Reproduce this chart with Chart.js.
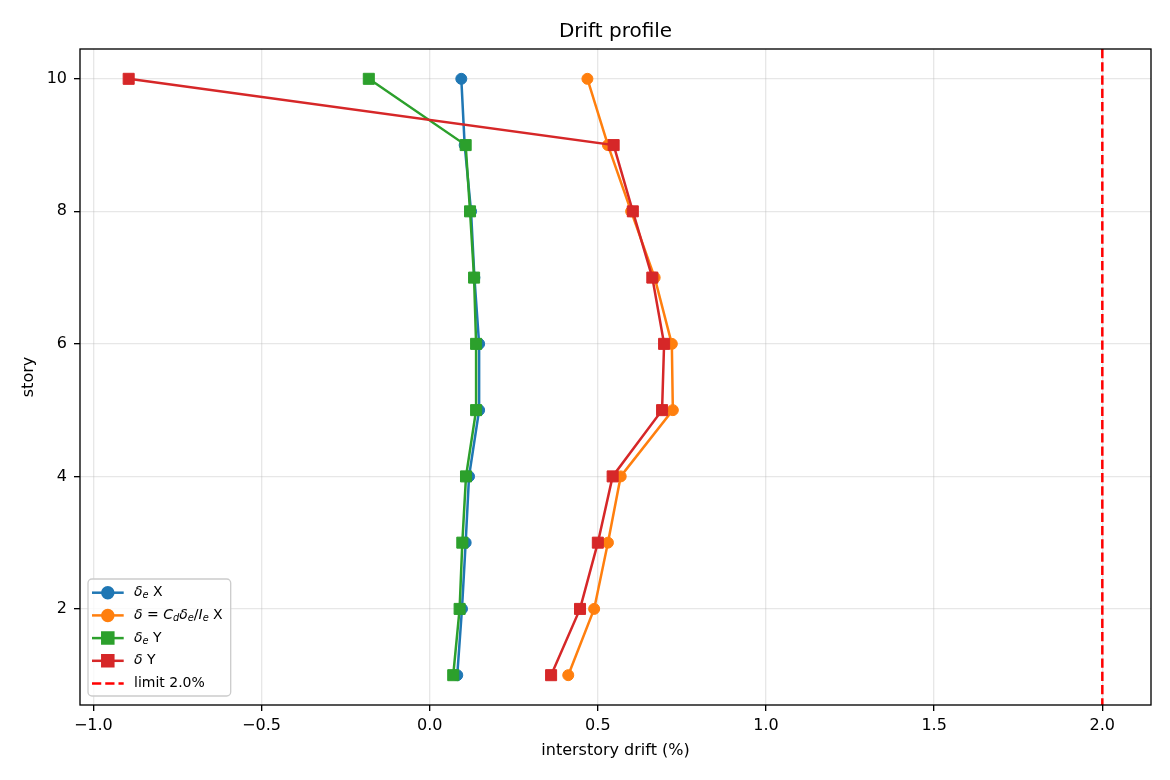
<!DOCTYPE html>
<html>
<head>
<meta charset="utf-8">
<title>Drift profile</title>
<script src="https://cdn.jsdelivr.net/npm/chart.js@4.4.1/dist/chart.umd.min.js"></script>
<style>
  html, body { margin: 0; padding: 0; background: #fff; }
  #wrap { width: 1170px; height: 780px; }
</style>
</head>
<body>
<div id="wrap"><canvas id="drift" width="1170" height="780"></canvas></div>
<script>
// story levels and drift values (%)
const stories = [1, 2, 3, 4, 5, 6, 7, 8, 9, 10];
const deltaEX = [0.082, 0.096, 0.107, 0.117, 0.147, 0.147, 0.133, 0.123, 0.104, 0.094];
const deltaX  = [0.412, 0.489, 0.530, 0.568, 0.723, 0.720, 0.669, 0.599, 0.530, 0.469];
const deltaEY = [0.070, 0.089, 0.097, 0.108, 0.138, 0.138, 0.132, 0.120, 0.107, -0.181];
const deltaY  = [0.361, 0.447, 0.500, 0.544, 0.691, 0.697, 0.662, 0.604, 0.547, -0.895];
const driftLimit = 2.0;

const seriesLabels = ['$δ_e$ X', '$δ=C_dδ_e/I_e$ X', '$δ_e$ Y', '$δ$ Y'];
const limitLabel = 'limit 2.0%';
const xTicks = [-1.0, -0.5, 0.0, 0.5, 1.0, 1.5, 2.0];
const yTicks = [2, 4, 6, 8, 10];

const FONT = "'DejaVu Sans', sans-serif";
Chart.defaults.font.family = FONT;
Chart.defaults.color = '#000';

// matplotlib style autoscale (5% margins)
const allX = deltaEX.concat(deltaX, deltaEY, deltaY, [driftLimit]);
const xLo = Math.min(...allX), xHi = Math.max(...allX);
const xPad = (xHi - xLo) * 0.05;
const yPad = (stories[stories.length - 1] - stories[0]) * 0.05;

const pts = vals => vals.map((v, i) => ({x: v, y: stories[i]}));

function series(label, vals, color, style, order) {
  return {
    label: label,
    data: pts(vals),
    showLine: true,
    borderColor: color,
    backgroundColor: color,
    borderWidth: 2.5,
    pointStyle: style,
    pointRadius: style === 'rect' ? 7.8 : 5.5,
    pointBorderWidth: 1,
    pointBorderColor: color,
    pointBackgroundColor: color,
    order: order
  };
}

// tiny mathtext: $...$ is italic, _x makes a subscript
function mathRuns(label) {
  const runs = [];
  label.split('$').forEach((part, i) => {
    if (i % 2 === 0) { if (part) runs.push({t: part}); return; }
    for (let k = 0; k < part.length; k++) {
      const c = part[k];
      if (c === '_') runs.push({t: part[++k], it: true, sub: true});
      else if (c === '=') runs.push({t: ' = '});
      else if (c === '/') runs.push({t: '/'});
      else runs.push({t: c, it: true});
    }
  });
  return runs;
}

function drawRuns(ctx, runs, x, y, fs, measureOnly) {
  let cx = x;
  runs.forEach(r => {
    const size = r.sub ? fs * 0.7 : fs;
    ctx.font = (r.it ? 'italic ' : '') + size + 'px ' + FONT;
    if (!measureOnly) ctx.fillText(r.t, cx, y + (r.sub ? fs * 0.22 : 0));
    cx += ctx.measureText(r.t).width;
  });
  return cx - x;
}

const extras = {
  id: 'extras',
  afterDatasetsDraw(chart) {
    const ctx = chart.ctx;
    const ca = chart.chartArea;
    const xs = chart.scales.x;

    // limit line
    ctx.save();
    const lx = xs.getPixelForValue(driftLimit);
    ctx.strokeStyle = '#ff0000';
    ctx.lineWidth = 2.5;
    ctx.setLineDash([9.25, 4]);
    ctx.beginPath();
    ctx.moveTo(lx, ca.top);
    ctx.lineTo(lx, ca.bottom);
    ctx.stroke();
    ctx.restore();

    // spines
    ctx.save();
    ctx.strokeStyle = '#000';
    ctx.lineWidth = 1.33;
    ctx.strokeRect(ca.left, ca.top, ca.right - ca.left, ca.bottom - ca.top);
    ctx.restore();

    // legend, lower left
    const fs = 14;
    const entries = chart.data.datasets.map(ds => ({
      runs: mathRuns(ds.label), color: ds.borderColor, style: ds.pointStyle, r: ds.pointRadius
    }));
    entries.push({runs: mathRuns(limitLabel), color: '#ff0000', dashed: true});

    ctx.save();
    ctx.textBaseline = 'middle';
    let maxW = 0;
    entries.forEach(e => { maxW = Math.max(maxW, drawRuns(ctx, e.runs, 0, 0, fs, true)); });
    const rowH = 22.7;
    const boxW = 46 + maxW + 8;
    const boxH = 117;
    const bx = ca.left + 8;
    const by = ca.bottom - 9 - boxH;

    ctx.beginPath();
    ctx.roundRect(bx, by, boxW, boxH, 4);
    ctx.fillStyle = 'rgba(255,255,255,0.8)';
    ctx.fill();
    ctx.strokeStyle = '#cccccc';
    ctx.lineWidth = 1.33;
    ctx.stroke();

    entries.forEach((e, i) => {
      const y = by + 13.7 + i * rowH;
      ctx.strokeStyle = e.color;
      ctx.fillStyle = e.color;
      ctx.lineWidth = 2.5;
      ctx.setLineDash(e.dashed ? [9.25, 4] : []);
      ctx.beginPath();
      ctx.moveTo(bx + 4, y);
      ctx.lineTo(bx + 35.7, y);
      ctx.stroke();
      ctx.setLineDash([]);
      if (!e.dashed) {
        Chart.helpers.drawPoint(ctx, {pointStyle: e.style, radius: e.r, borderWidth: 1, rotation: 0}, bx + 19.8, y);
        ctx.fill();
      }
      ctx.fillStyle = '#000';
      drawRuns(ctx, e.runs, bx + 46, y, fs, false);
    });
    ctx.restore();
  },
  afterDraw(chart) {
    const ctx = chart.ctx;
    const ca = chart.chartArea;
    ctx.save();
    ctx.font = '20px ' + FONT;
    ctx.fillStyle = '#000';
    ctx.textAlign = 'center';
    ctx.textBaseline = 'alphabetic';
    ctx.fillText('Drift profile', (ca.left + ca.right) / 2, ca.top - 11.7);
    ctx.restore();
  }
};

const gridStyle = {
  color: 'rgba(176,176,176,0.3)',
  lineWidth: 1.33,
  tickColor: '#000',
  tickWidth: 1.33,
  tickLength: 6
};

new Chart(document.getElementById('drift'), {
  type: 'scatter',
  data: {
    datasets: [
      series(seriesLabels[0], deltaEX, '#1f77b4', 'circle', 4),
      series(seriesLabels[1], deltaX, '#ff7f0e', 'circle', 3),
      series(seriesLabels[2], deltaEY, '#2ca02c', 'rect', 2),
      series(seriesLabels[3], deltaY, '#d62728', 'rect', 1)
    ]
  },
  options: {
    responsive: false,
    animation: false,
    layout: { padding: { top: 49, right: 19, left: 0, bottom: 0 } },
    plugins: {
      legend: { display: false },
      title: { display: false },
      tooltip: { enabled: false }
    },
    scales: {
      x: {
        type: 'linear',
        min: xLo - xPad,
        max: xHi + xPad,
        afterBuildTicks: s => { s.ticks = xTicks.map(v => ({value: v})); },
        afterFit: s => { s.height = 75; },
        grid: gridStyle,
        border: { display: false },
        ticks: {
          font: { size: 16 },
          padding: 5,
          maxRotation: 0,
          callback: v => (v < 0 ? '\u2212' : '') + Math.abs(v).toFixed(1)
        },
        title: { display: true, text: 'interstory drift (%)', font: { size: 16 }, padding: { top: 0, bottom: 20 } }
      },
      y: {
        type: 'linear',
        min: stories[0] - yPad,
        max: stories[stories.length - 1] + yPad,
        afterBuildTicks: s => { s.ticks = yTicks.map(v => ({value: v})); },
        afterFit: s => { s.width = 80; },
        grid: gridStyle,
        border: { display: false },
        ticks: { font: { size: 16 }, padding: 7 },
        title: { display: true, text: 'story', font: { size: 16 }, padding: { top: 19, bottom: 0 } }
      }
    }
  },
  plugins: [extras]
});
</script>
</body>
</html>
